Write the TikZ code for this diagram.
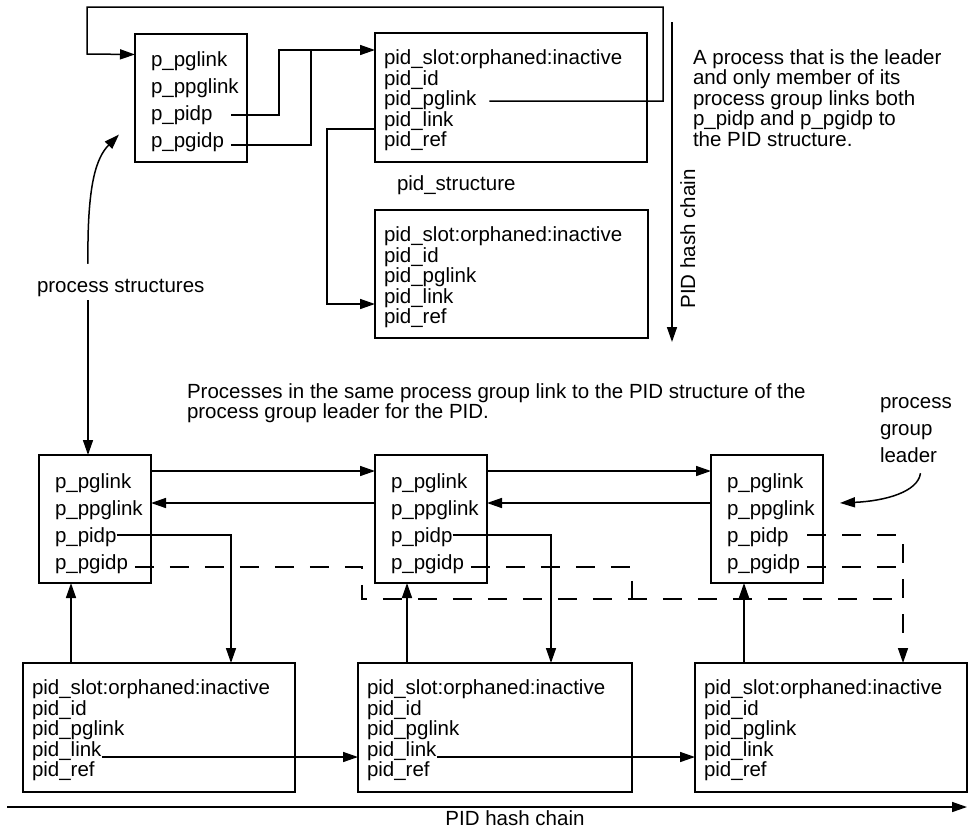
\documentclass[tikz,border=0pt]{standalone}
\usepackage{fontspec}
\setmainfont{Liberation Sans}
\usetikzlibrary{arrows.meta,calc}

\begin{document}
\begin{tikzpicture}[x=1pt,y=-1pt,
  every node/.style={inner sep=0pt, outer sep=0pt, font=\fontsize{20.5pt}{20.6pt}\selectfont},
  txt/.style={anchor=base west},
  procbox/.style={draw, line width=2pt, minimum width=112pt, minimum height=128pt},
  pidbox/.style={draw, line width=2pt, minimum width=272pt, minimum height=129pt},
  wire/.style={line width=1.5pt},
  linkarrow/.style={wire, -{Triangle[length=15pt,width=10pt]}},
  dashline/.style={wire, dash pattern=on 19pt off 16pt},
]
\fill[white] (0,0) rectangle (970,828);
\useasboundingbox (0,0) rectangle (970,828);

% ---- process structures and PID structures (top) ----
\node[procbox] (tproc) at (191,97.5) {};
\node[pidbox] (tpid1) at (511,97.5) {};
\node[pidbox, minimum width=273pt, minimum height=128pt] (tpid2) at (511.5,274) {};

% ---- bottom row ----
\node[procbox] (bproc1) at (95,519) {};
\node[procbox] (bproc2) at (431,519) {};
\node[procbox] (bproc3) at (767,519) {};
\node[pidbox] (bpid1) at (159,727.5) {};
\node[pidbox, minimum width=274pt] (bpid2) at (495,727.5) {};
\node[pidbox] (bpid3) at (831,727.5) {};

% process structure fields
\foreach \b/\x/\y in {t/151/66, b1/55/488, b2/391/488, b3/727/488} {
  \node[txt] (\b-pglink)  at (\x,\y)     {p\_pglink};
  \node[txt] (\b-ppglink) at (\x,\y+27)  {p\_ppglink};
  \node[txt] (\b-pidp)    at (\x,\y+54)  {p\_pidp};
  \node[txt] (\b-pgidp)   at (\x,\y+81)  {p\_pgidp};
}

% PID structure fields
\foreach \b/\x/\y in {p1/384/64.5, p2/384/241.5, l1/32/694.5, l2/367/694.5, l3/704/694.5} {
  \node[txt] (\b-slot)   at (\x,\y)      {pid\_slot:orphaned:inactive};
  \node[txt] (\b-id)     at (\x,\y+20.5) {pid\_id};
  \node[txt] (\b-pglink) at (\x,\y+41)   {pid\_pglink};
  \node[txt] (\b-link)   at (\x,\y+61.5) {pid\_link};
  \node[txt] (\b-ref)    at (\x,\y+82)   {pid\_ref};
}

% ---- labels ----
\node[txt] (pidstruct) at (397,190) {pid\_structure};
\node[txt] (pslabel) at (37,292) {process structures};
\node[rotate=90, anchor=base] (hclabel) at (695,239) {PID hash chain};
\node[anchor=base] (hblabel) at (515,825) {PID hash chain};

\foreach \i/\t in {1/{A process that is the leader},
                   2/{and only member of its},
                   3/{process group links both},
                   4/{p\_pidp and p\_pgidp to},
                   5/{the PID structure.}} {
  \node[txt] (note-\i) at (693,43.5+20.5*\i) {\t};
}
\node[txt] (grp-1) at (187,398) {Processes in the same process group link to the PID structure of the};
\node[txt] (grp-2) at (187,418) {process group leader for the PID.};
\foreach \i/\t in {1/process, 2/group, 3/leader} {
  \node[txt] (lead-\i) at (880,381+27*\i) {\t};
}

% ---- top connectors ----
\draw[linkarrow] ([xshift=18.5pt,yshift=5pt]t-pidp.base east) -| (279,50)
   -- ([yshift=-17pt]tpid1.north west);
\draw[wire] ([xshift=7pt,yshift=2pt]t-pgidp.base east) -| (311,50);
\draw[linkarrow] ([xshift=13pt,yshift=4.5pt]p1-pglink.base east) -| (663,7)
   -| (87,54) -- ([yshift=-21pt]tproc.north west);
\draw[linkarrow] ([yshift=-96pt]tpid1.north west) -| (327,304)
   -- ([yshift=-94pt]tpid2.north west);

\coordinate (hc-top) at (672,22);
\coordinate (hc-end) at (672,342);
\draw[linkarrow] (hc-top) -- (hc-end);

\draw[linkarrow] ([xshift=51pt,yshift=15pt]pslabel.north west)
   .. controls (87,185) and (96,158) .. ([xshift=-16pt,yshift=27pt]tproc.south west);
\draw[linkarrow] ([xshift=51pt,yshift=-4pt]pslabel.south west) -- ([xshift=-7pt]bproc1.north);

% ---- bottom connectors ----
\draw[linkarrow] ([yshift=-16pt]bproc1.north east) -- ([yshift=-16pt]bproc2.north west);
\draw[linkarrow] ([yshift=-16pt]bproc2.north east) -- ([yshift=-16pt]bproc3.north west);
\draw[linkarrow] ([yshift=-48pt]bproc2.north west) -- ([yshift=-48pt]bproc1.north east);
\draw[linkarrow] ([yshift=-48pt]bproc3.north west) -- ([yshift=-48pt]bproc2.north east);

\draw[linkarrow] ([yshift=7pt]b1-pidp.base east) -| ([xshift=208pt]bpid1.north west);
\draw[linkarrow] ([yshift=7pt]b2-pidp.base east) -| ([xshift=193pt]bpid2.north west);

\draw[linkarrow] ([xshift=48pt]bpid1.north west) -- ([xshift=-24pt]bproc1.south);
\draw[linkarrow] ([xshift=49pt]bpid2.north west) -- ([xshift=-24pt]bproc2.south);
\draw[linkarrow] ([xshift=49pt]bpid3.north west) -- ([xshift=-23pt]bproc3.south);

\draw[linkarrow] ([yshift=-1pt]l1-link.base east) -- ([yshift=-94pt]bpid2.north west);
\draw[linkarrow] ([yshift=-1pt]l2-link.base east) -- ([yshift=-94pt]bpid3.north west);

% group-leader links (dashed)
\draw[dashline] ([xshift=7pt,yshift=2pt]b1-pgidp.base east) -| (362,599) -- (903,599);
\draw[dashline] ([xshift=7pt,yshift=2pt]b2-pgidp.base east) -| (632,599);
\draw[dashline] ([xshift=7pt,yshift=2pt]b3-pgidp.base east) -- (903,567);
\draw[dashline, -{Triangle[length=15pt,width=10pt]}]
   ([xshift=18.5pt,yshift=7pt]b3-pidp.base east) -| ([xshift=208pt]bpid3.north west);

\draw[linkarrow] ([xshift=12pt,yshift=-11pt]lead-3.south)
   .. controls (918,492) and (885,501) .. ([xshift=17pt,yshift=-48pt]bproc3.north east);

\coordinate (hb-start) at (7,807);
\coordinate (hb-end) at (967,807);
\draw[linkarrow] (hb-start) -- (hb-end);
\end{tikzpicture}
\end{document}
